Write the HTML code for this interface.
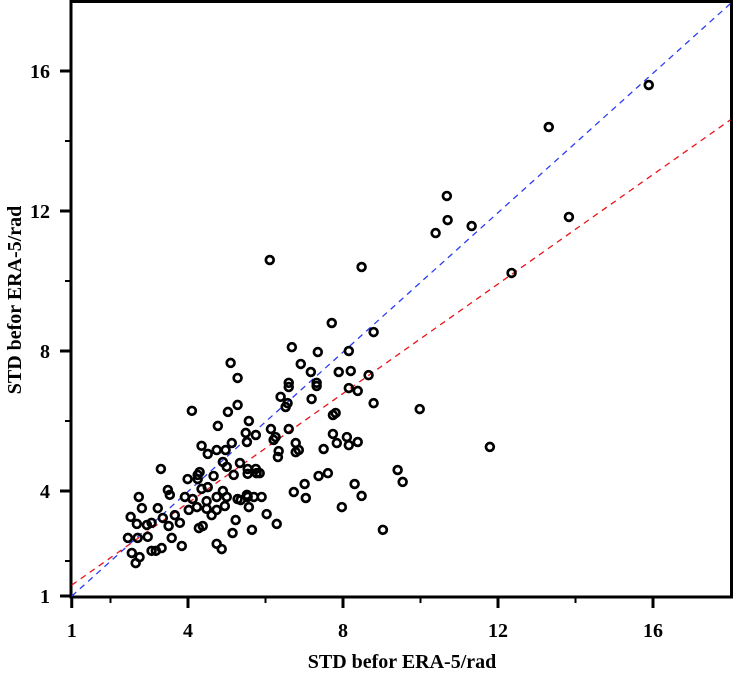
<!DOCTYPE html>
<html><head><meta charset="utf-8"><style>
html,body{margin:0;padding:0;background:#fff;}
svg{display:block;font-family:"Liberation Serif",serif;font-weight:bold;}
</style></head><body>
<svg id="chart" width="734" height="675" viewBox="0 0 734 675" xmlns="http://www.w3.org/2000/svg">
<g id="plot"></g>
<text x="402" y="668" text-anchor="middle" font-size="20">STD befor ERA-5/rad</text>
<text transform="translate(21,300) rotate(-90)" text-anchor="middle" font-size="20">STD befor ERA-5/rad</text>
</svg>
<script>
const xTicks=[1,4,8,12,16];
const yTicks=[1,4,8,12,16];
const minorTicks=[2,6,10,14];
const xVals=[15.89,13.31,10.68,10.70,10.39,11.32,13.83,12.35,6.11,8.48,11.79,9.98,5.10,5.28,
4.10,5.03,5.28,4.77,5.57,5.49,5.75,5.52,4.35,4.74,5.13,4.97,4.51,4.90,5.00,5.34,5.54,5.75,5.77,5.54,5.18,3.30,4.30,4.25,3.99,4.25,4.66,4.51,4.35,4.90,5.00,4.74,5.36,5.52,5.54,5.70,5.90,6.03,3.48,3.53,3.92,4.12,2.73,2.81,3.22,3.35,3.66,4.02,4.23,4.48,4.48,4.61,4.74,4.95,5.28,5.57,2.52,2.68,3.06,2.94,3.50,3.79,4.28,4.38,5.23,5.65,5.15,2.45,2.70,2.96,3.58,3.84,3.06,3.17,3.32,2.55,2.75,2.65,4.74,4.87,
7.71,8.79,6.68,7.35,8.15,6.91,7.17,7.89,8.20,6.60,7.32,6.60,7.32,8.15,8.38,8.66,6.39,6.57,6.52,7.19,8.79,7.74,7.81,6.14,6.60,6.21,6.26,6.78,6.34,6.32,6.86,6.78,7.50,7.74,7.84,8.10,8.15,8.38,5.85,7.37,7.61,7.01,6.73,7.04,8.30,8.48,9.41,9.54,6.29,7.97,9.03];
const yVals=[15.60,14.40,12.43,11.74,11.37,11.57,11.83,10.23,10.60,10.40,5.26,6.34,7.66,7.23,
6.29,6.26,6.46,5.86,6.00,5.66,5.60,5.40,5.29,5.17,5.37,5.17,5.06,4.83,4.69,4.80,4.63,4.63,4.51,4.49,4.46,4.63,4.54,4.46,4.34,4.34,4.43,4.11,4.06,4.00,3.83,3.83,3.74,3.89,3.83,3.83,3.83,3.34,4.03,3.89,3.83,3.77,3.83,3.51,3.51,3.23,3.31,3.46,3.54,3.71,3.49,3.31,3.46,3.57,3.77,3.54,3.26,3.06,3.09,3.03,3.00,3.09,2.94,3.00,3.17,2.89,2.80,2.66,2.66,2.69,2.66,2.43,2.29,2.29,2.37,2.23,2.11,1.94,2.49,2.34,
8.80,8.54,8.11,7.97,8.00,7.63,7.40,7.40,7.43,7.09,7.09,6.97,7.00,6.94,6.86,7.31,6.69,6.51,6.40,6.63,6.51,6.17,6.23,5.77,5.77,5.46,5.54,5.37,5.14,4.97,5.17,5.11,5.20,5.63,5.37,5.54,5.31,5.40,4.51,4.43,4.51,4.20,3.97,3.80,4.20,3.86,4.60,4.26,3.06,3.54,2.89];
const fitBlue=[0.996,0.0];
const fitRed=[0.782,0.53];
const X0=71.75,PX=38.75,Y0=596,PY=35;
const sx=v=>X0+(v-1)*PX;
const sy=v=>Y0-(v-1)*PY;
const NS="http://www.w3.org/2000/svg";
const g=document.getElementById('plot');
function mk(t,a){const e=document.createElementNS(NS,t);for(const k in a)e.setAttribute(k,a[k]);g.appendChild(e);return e;}
let fr=mk('rect',{x:71,y:1.5,width:660.5,height:595.5,fill:'none',stroke:'#000','stroke-width':3});


xTicks.forEach(v=>{
 let t=mk('line',{x1:sx(v),x2:sx(v),y1:597,y2:608,stroke:'#000','stroke-width':3});
 
 
 let l=mk('text',{x:sx(v),y:637,'text-anchor':'middle','font-size':20});
 l.textContent=v;
 
 
});
yTicks.forEach(v=>{
 let t=mk('line',{x1:60,x2:71,y1:sy(v),y2:sy(v),stroke:'#000','stroke-width':3});
 
 
 let l=mk('text',{x:50,y:sy(v)+7,'text-anchor':'end','font-size':20});
 l.textContent=v;
 
 
});
minorTicks.forEach(v=>{
 let a=mk('line',{x1:sx(v),x2:sx(v),y1:597,y2:603,stroke:'#000','stroke-width':2});
 
 
 let b=mk('line',{x1:65,x2:71,y1:sy(v),y2:sy(v),stroke:'#000','stroke-width':2});
 
 
});
function fit(f,col,name){
 const xa=1,xb=18;
 let ln=mk('line',{x1:sx(xa),y1:sy(f[0]*xa+f[1]),x2:sx(xb),y2:sy(f[0]*xb+f[1]),stroke:col,'stroke-width':1.3,'stroke-dasharray':'6 5'});
 
 
}
fit(fitBlue,'#2b3cf0','blue-fit-line');
fit(fitRed,'#e8141a','red-fit-line');
xVals.forEach((v,i)=>{
 let c=mk('circle',{cx:sx(v),cy:sy(yVals[i]),r:3.9,fill:'none',stroke:'#000','stroke-width':2.7});
 
 
});
</script>
</body></html>
